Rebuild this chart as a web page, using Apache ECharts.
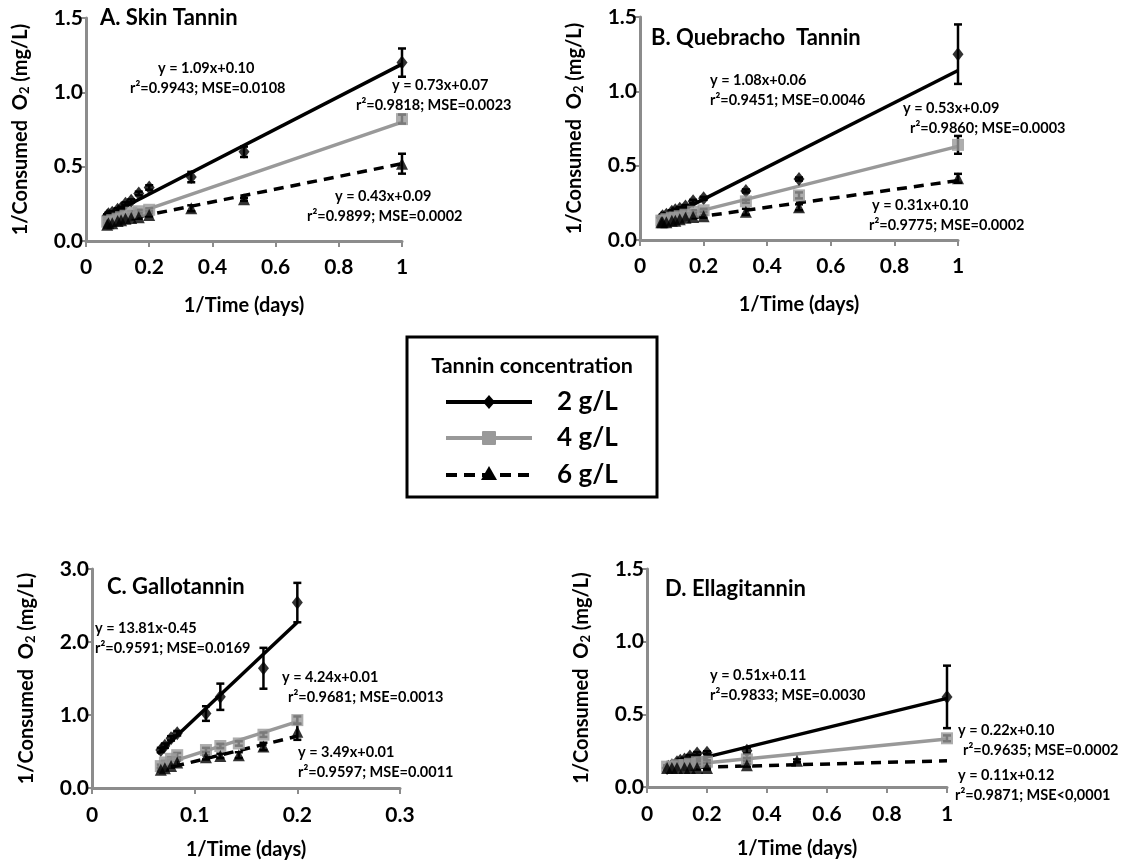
<!DOCTYPE html>
<html><head><meta charset="utf-8">
<script src="https://cdn.jsdelivr.net/npm/echarts@6/dist/echarts.min.js"></script>
<style>html,body{margin:0;padding:0;background:#fff}#c{width:1126px;height:867px}</style>
</head><body><div id="c"></div>
<script>
// ---------- DATA ----------
const panelTitles = ['A. Skin Tannin', 'B. Quebracho  Tannin', 'C. Gallotannin', 'D. Ellagitannin'];
const concLabels = ['2 g/L', '4 g/L', '6 g/L'];
const xTicksABD = [0, 0.2, 0.4, 0.6, 0.8, 1];
const xTicksC = [0, 0.1, 0.2, 0.3];
const yTicksABD = [0, 0.5, 1.0, 1.5];
const yTicksC = [0, 1.0, 2.0, 3.0];

// [1/time, value, error]
const A_2 = [[1,1.20,0.095],[0.5,0.60,0.035],[0.333,0.43,0.035],[0.2,0.36,0.015],[0.167,0.32,0.012],[0.143,0.27,0.01],[0.125,0.25,0.01],[0.111,0.22,0.01],[0.1,0.21,0.01],[0.083,0.19,0.01],[0.071,0.18,0.01],[0.067,0.17,0.01]];
const A_4 = [[1,0.82,0.03],[0.2,0.21,0.01],[0.167,0.20,0.01],[0.143,0.19,0.01],[0.125,0.17,0.01],[0.111,0.16,0.01],[0.1,0.15,0.01],[0.083,0.14,0.01],[0.071,0.13,0.01],[0.067,0.13,0.01]];
const A_6 = [[1,0.52,0.067],[0.5,0.28,0.01],[0.333,0.22,0.02],[0.2,0.175,0.01],[0.167,0.16,0.01],[0.143,0.155,0.01],[0.125,0.15,0.01],[0.111,0.14,0.01],[0.1,0.135,0.01],[0.083,0.12,0.01],[0.071,0.12,0.01],[0.067,0.11,0.01]];
const A_fit2 = [[0.067,0.17],[1,1.19]];
const A_fit4 = [[0.067,0.12],[1,0.80]];
const A_fit6 = [[0.067,0.12],[1,0.52]];

const B_2 = [[1,1.25,0.20],[0.5,0.41,0.01],[0.333,0.33,0.01],[0.2,0.28,0.01],[0.167,0.26,0.01],[0.143,0.225,0.01],[0.125,0.21,0.01],[0.111,0.20,0.01],[0.1,0.19,0.01],[0.083,0.17,0.01],[0.071,0.16,0.01],[0.067,0.15,0.01]];
const B_4 = [[1,0.64,0.06],[0.5,0.30,0.02],[0.333,0.26,0.01],[0.2,0.20,0.01],[0.167,0.19,0.01],[0.143,0.17,0.01],[0.125,0.16,0.01],[0.111,0.15,0.01],[0.1,0.15,0.01],[0.083,0.14,0.01],[0.071,0.13,0.01],[0.067,0.13,0.01]];
const B_6 = [[1,0.415,0.03],[0.5,0.22,0.02],[0.333,0.19,0.02],[0.2,0.16,0.01],[0.167,0.155,0.01],[0.143,0.15,0.01],[0.125,0.14,0.01],[0.111,0.13,0.01],[0.1,0.13,0.01],[0.083,0.12,0.01],[0.071,0.12,0.01],[0.067,0.12,0.01]];
const B_fit2 = [[0.067,0.13],[1,1.14]];
const B_fit4 = [[0.067,0.13],[1,0.63]];
const B_fit6 = [[0.067,0.12],[1,0.40]];

const C_2 = [[0.2,2.54,0.27],[0.167,1.64,0.28],[0.125,1.25,0.18],[0.111,1.02,0.10],[0.083,0.75,0.03],[0.077,0.68,0.03],[0.071,0.58,0.03],[0.067,0.52,0.03]];
const C_4 = [[0.2,0.93,0.05],[0.167,0.73,0.03],[0.143,0.61,0.03],[0.125,0.575,0.03],[0.111,0.52,0.03],[0.083,0.45,0.03],[0.077,0.40,0.02],[0.071,0.35,0.02],[0.067,0.30,0.02]];
const C_6 = [[0.2,0.77,0.11],[0.167,0.57,0.05],[0.143,0.45,0.04],[0.125,0.44,0.03],[0.111,0.42,0.03],[0.083,0.35,0.03],[0.077,0.30,0.02],[0.071,0.27,0.02],[0.067,0.25,0.02]];
const C_fit2 = [[0.064,0.47],[0.2,2.27]];
const C_fit4 = [[0.064,0.30],[0.2,0.91]];
const C_fit6 = [[0.064,0.24],[0.2,0.71]];

const D_2 = [[1,0.62,0.215],[0.333,0.25,0.02],[0.2,0.236,0.01],[0.167,0.23,0.01],[0.143,0.21,0.01],[0.125,0.19,0.01],[0.111,0.18,0.01],[0.1,0.17,0.01],[0.083,0.15,0.01],[0.071,0.14,0.01],[0.067,0.13,0.01]];
const D_4 = [[1,0.335,0.02],[0.333,0.19,0.01],[0.2,0.174,0.01],[0.167,0.17,0.01],[0.143,0.16,0.01],[0.125,0.15,0.01],[0.1,0.15,0.01],[0.083,0.14,0.01],[0.067,0.14,0.01]];
const D_6 = [[0.5,0.18,0.01],[0.333,0.15,0.01],[0.2,0.13,0.01],[0.167,0.13,0.01],[0.143,0.13,0.01],[0.125,0.13,0.01],[0.1,0.13,0.01],[0.083,0.13,0.01],[0.067,0.13,0.01]];
const D_fit2 = [[0.067,0.14],[1,0.61]];
const D_fit4 = [[0.067,0.14],[1,0.33]];
const D_fit6 = [[0.067,0.13],[1,0.18]];

const equations = [
  ['y = 1.09x+0.10','r²=0.9943; MSE=0.0108','y = 0.73x+0.07','r²=0.9818; MSE=0.0023','y = 0.43x+0.09','r²=0.9899; MSE=0.0002'],
  ['y = 1.08x+0.06','r²=0.9451; MSE=0.0046','y = 0.53x+0.09','r²=0.9860; MSE=0.0003','y = 0.31x+0.10','r²=0.9775; MSE=0.0002'],
  ['y = 13.81x-0.45','r²=0.9591; MSE=0.0169','y = 4.24x+0.01','r²=0.9681; MSE=0.0013','y = 3.49x+0.01','r²=0.9597; MSE=0.0011'],
  ['y = 0.51x+0.11','r²=0.9833; MSE=0.0030','y = 0.22x+0.10','r²=0.9635; MSE=0.0002','y = 0.11x+0.12','r²=0.9871; MSE<0,0001']
];

// ---------- LAYOUT / STYLE ----------
const FONT = 'Lato, "Liberation Sans", sans-serif';
const GRAY = '#8c8c8c';
const MARK_GRAY = '#999999';
const TICK_FS = 21;
const EQ_FS = 14.5;
const grids = [
  {left:86, top:18, width:316, height:223},
  {left:640, top:17, width:318, height:223},
  {left:92, top:569, width:308, height:219},
  {left:647, top:569, width:300, height:218}
];
const panels = [
  {d:[A_2,A_4,A_6], f:[A_fit2,A_fit4,A_fit6], xmax:1, xint:0.2, ymax:1.5, yint:0.5},
  {d:[B_2,B_4,B_6], f:[B_fit2,B_fit4,B_fit6], xmax:1, xint:0.2, ymax:1.5, yint:0.5},
  {d:[C_2,C_4,C_6], f:[C_fit2,C_fit4,C_fit6], xmax:0.3, xint:0.1, ymax:3, yint:1},
  {d:[D_2,D_4,D_6], f:[D_fit2,D_fit4,D_fit6], xmax:1, xint:0.2, ymax:1.5, yint:0.5}
];

const xAxes = [], yAxes = [], series = [];
panels.forEach((p, i) => {
  xAxes.push({
    gridIndex:i, type:'value', min:0, max:p.xmax, interval:p.xint,
    name:'1/Time (days)', nameLocation:'middle', nameGap: i<2 ? 55 : 52,
    nameTextStyle:{fontFamily:FONT, fontWeight:'bold', fontSize:20, color:'#000'},
    axisLine:{show:true, onZero:false, lineStyle:{color:GRAY, width:3}},
    axisTick:{show:true, inside:false, length:6, lineStyle:{color:GRAY, width:2}},
    splitLine:{show:false},
    axisLabel:{fontFamily:FONT, fontWeight:'bold', fontSize:TICK_FS, color:'#000', margin: i<2 ? 16 : 17,
      formatter: v => (Math.round(v*10)/10).toString()}
  });
  yAxes.push({
    gridIndex:i, type:'value', min:0, max:p.ymax, interval:p.yint,
    name:'{a|1/Consumed  O}{s|2}{a| (mg/L)}', nameLocation:'middle', nameGap: 55,
    nameTextStyle:{rich:{a:{fontFamily:FONT, fontWeight:'bold', fontSize:20, color:'#000'},
                         s:{fontFamily:FONT, fontWeight:'bold', fontSize:13, color:'#000', padding:[8,0,0,0]}}},
    axisLine:{show:true, onZero:false, lineStyle:{color:GRAY, width:3}},
    axisTick:{show:true, inside:false, length:6, lineStyle:{color:GRAY, width:2}},
    splitLine:{show:false},
    axisLabel:{fontFamily:FONT, fontWeight:'bold', fontSize:TICK_FS, color:'#000', margin:3,
      formatter: v => v.toFixed(1)}
  });
  const lineStyles = [
    {color:'#000', width:3.5, type:'solid'},
    {color:MARK_GRAY, width:3.5, type:'solid'},
    {color:'#000', width:3.5, type:[10,7]}
  ];
  p.f.forEach((fit, k) => {
    series.push({type:'line', xAxisIndex:i, yAxisIndex:i, data:fit, symbol:'none',
      lineStyle:lineStyles[k], silent:true, z:2});
  });
  const syms = [
    {symbol:'diamond', size:[11,14], color:'#000'},
    {symbol:'rect', size:12, color:MARK_GRAY},
    {symbol:'triangle', size:12, color:'#000'}
  ];
  p.d.forEach((pts, k) => {
    series.push({type:'custom', xAxisIndex:i, yAxisIndex:i, data:pts, z:3, silent:true,
      renderItem:(params, api) => {
        const x = api.value(0), y = api.value(1), e = api.value(2);
        const top = api.coord([x, y+e]), bot = api.coord([x, y-e]);
        const cw = 4;
        return {type:'group', children:[
          {type:'line', shape:{x1:top[0], y1:top[1], x2:bot[0], y2:bot[1]}, style:{stroke:'#000', lineWidth:2.5}},
          {type:'line', shape:{x1:top[0]-cw, y1:top[1], x2:top[0]+cw, y2:top[1]}, style:{stroke:'#000', lineWidth:2.5}},
          {type:'line', shape:{x1:bot[0]-cw, y1:bot[1], x2:bot[0]+cw, y2:bot[1]}, style:{stroke:'#000', lineWidth:2.5}}
        ]};
      }});
    series.push({type:'scatter', xAxisIndex:i, yAxisIndex:i, data:pts.map(q=>[q[0],q[1]]),
      symbol:syms[k].symbol, symbolSize:syms[k].size, itemStyle:{color:syms[k].color}, z:4, silent:true});
  });
});

// equation text positions: [line1 x, line2 x, top y of line1]
const eqPos = [
  [[158,130,61],[392,356,78],[335,307,189]],
  [[710,710,73],[903,910,101],[872,869,198]],
  [[95,95,621],[282,288,670],[298,298,745]],
  [[710,710,668],[958,963,723],[958,955,768]]
];
const graphics = [];
const titlePos = [[100,7],[651,27],[107,576],[665,578]];
panelTitles.forEach((t, i) => {
  graphics.push({type:'text', left:titlePos[i][0], top:titlePos[i][1],
    style:{text:t, fontFamily:FONT, fontWeight:'bold', fontSize:22, fill:'#000'}});
});
equations.forEach((eqs, i) => {
  for (let k = 0; k < 3; k++) {
    const [l1x, l2x, y] = eqPos[i][k];
    graphics.push({type:'text', x:l1x, y:y, style:{text:eqs[2*k], fontFamily:FONT, fontWeight:'bold', fontSize:EQ_FS, fill:'#000'}});
    graphics.push({type:'text', x:l2x, y:y+20, style:{text:eqs[2*k+1], fontFamily:FONT, fontWeight:'bold', fontSize:EQ_FS, fill:'#000'}});
  }
});

// legend box
graphics.push({type:'rect', shape:{x:407, y:337, width:250, height:160}, style:{fill:'#fff', stroke:'#000', lineWidth:3}});
graphics.push({type:'text', x:532, y:366, style:{text:'Tannin concentration', fontFamily:FONT, fontWeight:'bold', fontSize:21.5, fill:'#000', align:'center', verticalAlign:'middle'}});
const legY = [402, 438, 475];
graphics.push({type:'line', shape:{x1:446, y1:legY[0], x2:532, y2:legY[0]}, style:{stroke:'#000', lineWidth:4}});
graphics.push({type:'polygon', shape:{points:[[489,legY[0]-7],[495,legY[0]],[489,legY[0]+7],[483,legY[0]]]}, style:{fill:'#000'}});
graphics.push({type:'line', shape:{x1:446, y1:legY[1], x2:532, y2:legY[1]}, style:{stroke:MARK_GRAY, lineWidth:4}});
graphics.push({type:'rect', shape:{x:482, y:legY[1]-7, width:14, height:14, r:1}, style:{fill:MARK_GRAY}});
graphics.push({type:'line', shape:{x1:446, y1:legY[2], x2:532, y2:legY[2]}, style:{stroke:'#000', lineWidth:4, lineDash:[11,7]}});
graphics.push({type:'polygon', shape:{points:[[489,legY[2]-9],[497,legY[2]+5],[481,legY[2]+5]]}, style:{fill:'#000'}});
concLabels.forEach((t, k) => {
  graphics.push({type:'text', x:557, y:legY[k], style:{text:t, fontFamily:FONT, fontWeight:'bold', fontSize:26, fill:'#000', verticalAlign:'middle'}});
});

const chart = echarts.init(document.getElementById('c'), null, {renderer:'canvas'});
chart.setOption({
  animation:false,
  backgroundColor:'#fff',
  grid: grids.map(g => Object.assign({containLabel:false}, g)),
  xAxis:xAxes, yAxis:yAxes, series:series, graphic:graphics
});
</script></body></html>
